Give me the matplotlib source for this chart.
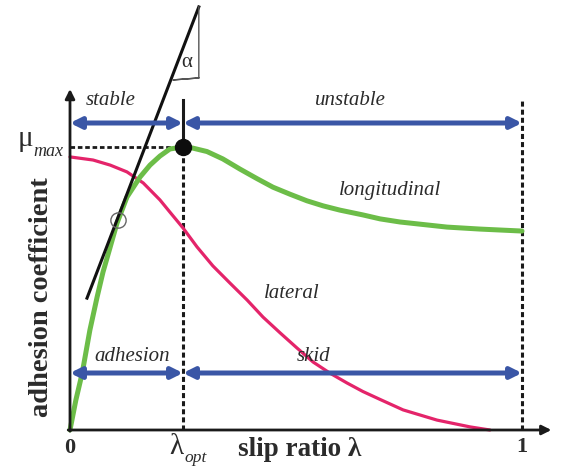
import numpy as np
import matplotlib
matplotlib.use("Agg")
import matplotlib.pyplot as plt

# slip ratio (0..1) and adhesion coefficient normalised so mu_max = 1
lam_opt = 0.25
mu_max = 1.0

# longitudinal adhesion curve
long_x = [0.0, 0.013, 0.027, 0.044, 0.060, 0.073, 0.089, 0.104, 0.126, 0.155,
          0.177, 0.199, 0.221, 0.25, 0.272, 0.303, 0.338, 0.376, 0.414, 0.449,
          0.487, 0.524, 0.560, 0.597, 0.648, 0.686, 0.730, 0.834, 0.907, 1.0]
long_y = [0.0, 0.106, 0.201, 0.353, 0.470, 0.558, 0.647, 0.731, 0.823, 0.894,
          0.936, 0.968, 0.993, 1.0, 0.996, 0.984, 0.958, 0.922, 0.888, 0.858,
          0.833, 0.810, 0.792, 0.777, 0.760, 0.746, 0.735, 0.717, 0.710, 0.703]

# lateral adhesion curve
lat_x = [0.0, 0.051, 0.089, 0.126, 0.162, 0.199, 0.221, 0.25, 0.281, 0.316,
         0.354, 0.392, 0.427, 0.465, 0.502, 0.538, 0.575, 0.613, 0.648, 0.686,
         0.737, 0.812, 0.885, 0.929]
lat_y = [0.965, 0.954, 0.936, 0.912, 0.873, 0.813, 0.770, 0.714, 0.647, 0.580,
         0.519, 0.459, 0.399, 0.343, 0.290, 0.240, 0.201, 0.166, 0.136, 0.108,
         0.071, 0.035, 0.011, 0.0]

# tangent line (slope alpha) and the touching point
tan_x = [0.0376, 0.285]
tan_y = [0.466, 1.495]
touch = (0.106, 0.742)

blue = '#3a56a6'
green = '#6cbd48'
red = '#e4246a'
txt = '#2b2b2b'
serif = 'Liberation Serif'

fig = plt.figure(figsize=(5.63, 4.66), dpi=100)
ax = fig.add_axes([0, 0, 1, 1])
ax.set_xlim(-70/452, 493/452)
ax.set_ylim(-36/283, 430/283)
ax.axis('off')

# axes with arrows
ax.annotate('', xy=(1.065, 0), xytext=(-0.004, 0),
            arrowprops=dict(arrowstyle='-|>', lw=2, color='#1a1a1a', mutation_scale=14, shrinkA=0, shrinkB=0))
ax.annotate('', xy=(0, 1.205), xytext=(0, -0.004),
            arrowprops=dict(arrowstyle='-|>', lw=2, color='#1a1a1a', mutation_scale=14, shrinkA=0, shrinkB=0))

# dashed guides
dash = (0, (1.65, 1.0))
ax.plot([0, lam_opt], [mu_max, mu_max], color='#1a1a1a', lw=2, ls=dash)
ax.plot([lam_opt, lam_opt], [0, mu_max], color='#1a1a1a', lw=2.2, ls=dash)
ax.plot([lam_opt, lam_opt], [mu_max, 1.166], color='#1a1a1a', lw=2.2)
ax.plot([1, 1], [0, 1.166], color='#1a1a1a', lw=2.2, ls=dash)

# curves
ax.plot(lat_x, lat_y, color=red, lw=2.3, solid_capstyle='round', solid_joinstyle='round')
ax.plot(long_x, long_y, color=green, lw=3.6, solid_capstyle='round', solid_joinstyle='round')
ax.plot(tan_x, tan_y, color='#111111', lw=2.2)
ax.plot([0.285, 0.285, 0.228, 0.285], [1.495, 1.244, 1.237, 1.244], color='#555555', lw=1)

ax.plot(*touch, 'o', ms=11, mfc='none', mec='#666666', mew=1)
ax.plot(lam_opt, mu_max, 'o', ms=11.5, color='#0d0d0d')

# region arrows
def dbl(x0, x1, y):
    ax.annotate('', xy=(x1, y), xytext=(x0, y),
                arrowprops=dict(arrowstyle='<|-|>', lw=3.6, color=blue, mutation_scale=16,
                                shrinkA=0, shrinkB=0))

y_top = (430 - 123) / 283
y_bot = (430 - 373) / 283
dbl(0, lam_opt, y_top)
dbl(lam_opt, 1, y_top)
dbl(0, lam_opt, y_bot)
dbl(lam_opt, 1, y_bot)

it = dict(family=serif, style='italic', color=txt, fontsize=15, ha='center', va='center')
ax.text(0.09, 1.165, 'stable', **it)
ax.text(0.62, 1.165, 'unstable', **it)
ax.text(0.708, 0.848, 'longitudinal', **it)
ax.text(0.491, 0.484, 'lateral', **it)
ax.text(0.137, 0.261, 'adhesion', **it)
ax.text(0.538, 0.258, 'skid', **it)
ax.text(0.259, 1.30, 'α', family=serif, color=txt, fontsize=15, ha='center', va='center')

# mu_max label
ax.text(-0.082, 1.03, 'μ', family=serif, color=txt, fontsize=21, ha='right', va='center')
ax.text(-0.082, 0.985, 'max', family=serif, style='italic', color=txt, fontsize=13, ha='left', va='center')

# x tick labels
bold = dict(family=serif, weight='bold', color=txt, ha='center', va='center')
ax.text(0, -0.065, '0', fontsize=16, **bold)
ax.text(1, -0.06, '1', fontsize=16, **bold)
ax.text(lam_opt - 0.015, -0.06, 'λ', family=serif, color=txt, fontsize=21, ha='center', va='center')
ax.text(lam_opt + 0.004, -0.098, 'opt', family=serif, style='italic', color=txt, fontsize=12.5, ha='left', va='center')
ax.text(0.509, -0.07, 'slip ratio λ', fontsize=19.5, **bold)

ax.text(-0.064, 0.47, 'adhesion coefficient', rotation=90, fontsize=20.5, **bold)

fig.savefig('out.png', dpi=100)
